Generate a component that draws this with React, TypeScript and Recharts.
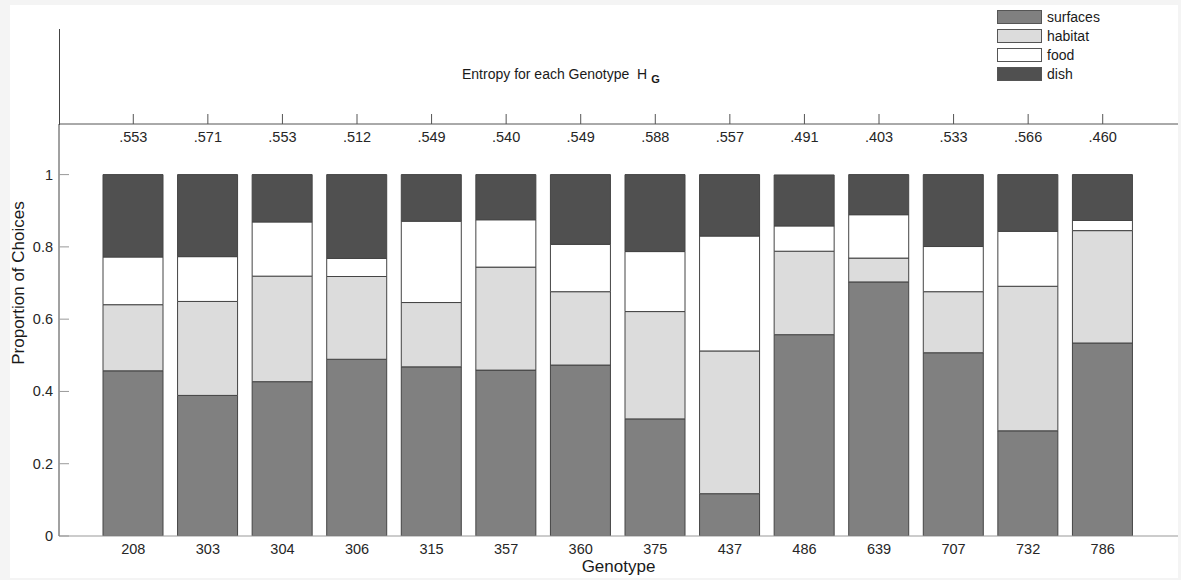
import { BarChart, Bar, XAxis, YAxis } from 'recharts'

document.body.style.margin = '0'

const GENOTYPES = ['208', '303', '304', '306', '315', '357', '360', '375', '437', '486', '639', '707', '732', '786']
const ENTROPY = ['.553', '.571', '.553', '.512', '.549', '.540', '.549', '.588', '.557', '.491', '.403', '.533', '.566', '.460']
const SURFACES = [0.457, 0.389, 0.427, 0.489, 0.468, 0.459, 0.473, 0.324, 0.117, 0.557, 0.703, 0.507, 0.291, 0.534]
const HABITAT = [0.183, 0.26, 0.292, 0.229, 0.178, 0.285, 0.203, 0.297, 0.395, 0.231, 0.066, 0.169, 0.4, 0.311]
const FOOD = [0.132, 0.124, 0.15, 0.05, 0.225, 0.131, 0.131, 0.166, 0.318, 0.07, 0.12, 0.125, 0.152, 0.028]
const DISH = [0.228, 0.227, 0.131, 0.232, 0.129, 0.125, 0.193, 0.213, 0.17, 0.141, 0.111, 0.199, 0.157, 0.127]
const Y_TICKS = [0, 0.2, 0.4, 0.6, 0.8, 1]

const data = GENOTYPES.map((g, i) => ({
    genotype: g,
    surfaces: SURFACES[i],
    habitat: HABITAT[i],
    food: FOOD[i],
    dish: DISH[i],
}))

const legendItems = [
    { name: 'surfaces', color: '#808080' },
    { name: 'habitat', color: '#dcdcdc' },
    { name: 'food', color: '#ffffff' },
    { name: 'dish', color: '#505050' },
]

const FONT = '"Liberation Sans", Arial, sans-serif'
const PLOT_LEFT = 59

function YTick(props: any) {
    const { y, payload } = props
    return (
        <g>
            <line x1={PLOT_LEFT} x2={PLOT_LEFT + 10} y1={y} y2={y} stroke="#999" />
            <text x={PLOT_LEFT - 6} y={y} textAnchor="end" dominantBaseline="central" fontSize={14.5} fill="#262626" fontFamily={FONT}>
                {payload.value}
            </text>
        </g>
    )
}

function TopTick(props: any) {
    const { x, y, index } = props
    return (
        <text x={x} y={y + 25} textAnchor="middle" dominantBaseline="central" fontSize={14.5} fill="#262626" fontFamily={FONT}>
            {ENTROPY[index]}
        </text>
    )
}

export default function App() {
    return (
        <div style={{ position: 'relative', width: 1181, height: 580, background: '#f4f4f4', fontFamily: FONT }}>
            <div style={{ position: 'absolute', left: 10, top: 5, width: 1168, height: 573, background: '#fff' }} />
            <BarChart
                width={1181}
                height={580}
                data={data}
                margin={{ top: 94, right: 3, bottom: 0, left: 10 }}
                style={{ position: 'absolute', left: 0, top: 0 }}
            >
                <XAxis
                    xAxisId="top"
                    orientation="top"
                    dataKey="genotype"
                    height={30}
                    padding={{ left: 37, right: 38 }}
                    axisLine={{ stroke: '#555' }}
                    tickLine={{ stroke: '#555' }}
                    tickSize={10}
                    tick={TopTick}
                    interval={0}
                />
                <XAxis
                    dataKey="genotype"
                    height={44}
                    padding={{ left: 37, right: 38 }}
                    axisLine={{ stroke: '#999' }}
                    tickLine={false}
                    tickSize={6}
                    tickMargin={2}
                    tick={{ fontSize: 14.5, fill: '#262626', fontFamily: FONT }}
                    interval={0}
                    label={{ value: 'Genotype', position: 'insideBottom', offset: 8, fontSize: 17, fill: '#1a1a1a', fontFamily: FONT }}
                />
                <YAxis
                    width={49}
                    domain={[0, 1.14]}
                    ticks={Y_TICKS}
                    axisLine={{ stroke: '#444' }}
                    tickLine={false}
                    tick={YTick}
                    allowDataOverflow
                />
                <Bar dataKey="surfaces" stackId="a" barSize={60} fill="#808080" stroke="#444" isAnimationActive={false} />
                <Bar dataKey="habitat" stackId="a" barSize={60} fill="#dcdcdc" stroke="#444" isAnimationActive={false} />
                <Bar dataKey="food" stackId="a" barSize={60} fill="#ffffff" stroke="#444" isAnimationActive={false} />
                <Bar dataKey="dish" stackId="a" barSize={60} fill="#505050" stroke="#444" isAnimationActive={false} />
            </BarChart>

            {/* upper axes stub + title */}
            <div style={{ position: 'absolute', left: PLOT_LEFT, top: 29, width: 1, height: 96, background: '#444' }} />
            <div style={{ position: 'absolute', left: 462, top: 66, fontSize: 14, color: '#1a1a1a', whiteSpace: 'nowrap' }}>
                Entropy for each Genotype&nbsp;&nbsp;H
                <sub style={{ fontSize: 11, fontWeight: 'bold', marginLeft: 4 }}>G</sub>
            </div>

            <div
                style={{
                    position: 'absolute',
                    left: 19,
                    top: 283,
                    transform: 'translate(-50%, -50%) rotate(-90deg)',
                    fontSize: 17,
                    color: '#1a1a1a',
                    whiteSpace: 'nowrap',
                }}
            >
                Proportion of Choices
            </div>

            {legendItems.map((item, i) => (
                <div key={item.name} style={{ position: 'absolute', left: 997, top: 10 + i * 19, display: 'flex', alignItems: 'center' }}>
                    <div style={{ width: 43, height: 12, background: item.color, border: '1px solid #555' }} />
                    <span style={{ marginLeft: 5, fontSize: 14, color: '#1a1a1a', lineHeight: '14px' }}>{item.name}</span>
                </div>
            ))}
        </div>
    )
}
